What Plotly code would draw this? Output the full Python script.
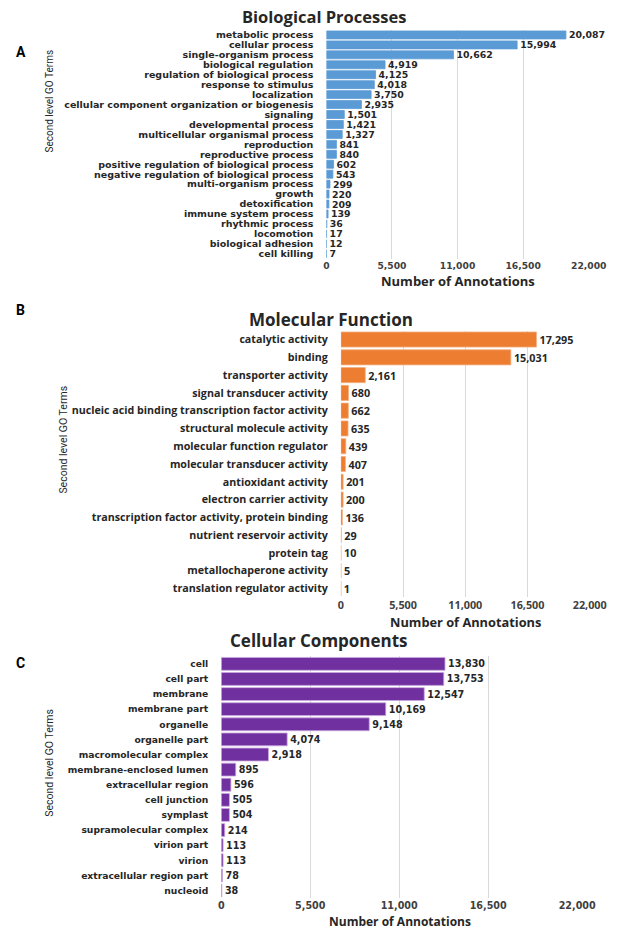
import plotly.graph_objects as go

# ---- Data ----
bp_terms = ["metabolic process", "cellular process", "single-organism process", "biological regulation",
            "regulation of biological process", "response to stimulus", "localization",
            "cellular component organization or biogenesis", "signaling", "developmental process",
            "multicellular organismal process", "reproduction", "reproductive process",
            "positive regulation of biological process", "negative regulation of biological process",
            "multi-organism process", "growth", "detoxification", "immune system process",
            "rhythmic process", "locomotion", "biological adhesion", "cell killing"]
bp_values = [20087, 15994, 10662, 4919, 4125, 4018, 3750, 2935, 1501, 1421, 1327, 841, 840,
             602, 543, 299, 220, 209, 139, 36, 17, 12, 7]

mf_terms = ["catalytic activity", "binding", "transporter activity", "signal transducer activity",
            "nucleic acid binding transcription factor activity", "structural molecule activity",
            "molecular function regulator", "molecular transducer activity", "antioxidant activity",
            "electron carrier activity", "transcription factor activity, protein binding",
            "nutrient reservoir activity", "protein tag", "metallochaperone activity",
            "translation regulator activity"]
mf_values = [17295, 15031, 2161, 680, 662, 635, 439, 407, 201, 200, 136, 29, 10, 5, 1]

cc_terms = ["cell", "cell part", "membrane", "membrane part", "organelle", "organelle part",
            "macromolecular complex", "membrane-enclosed lumen", "extracellular region",
            "cell junction", "symplast", "supramolecular complex", "virion part", "virion",
            "extracellular region part", "nucleoid"]
cc_values = [13830, 13753, 12547, 10169, 9148, 4074, 2918, 895, 596, 505, 504, 214, 113, 113, 78, 38]

tick_vals = [0, 5500, 11000, 16500, 22000]
tick_text = ["0", "5,500", "11,000", "16,500", "22,000"]

W, H = 620, 930

def py(y):  # pixel y -> paper
    return 1 - y / H

def px(x):
    return x / W

OPEN = "Open Sans"
DJV = "DejaVu Sans"

panels = [
    dict(terms=bp_terms, values=bp_values, color="#5B9BD5", line="#5B9BD5",
         lab_font=DJV, lab_fs=9.5, val_font=DJV, val_fs=9.4, tick_font=DJV, tick_fs=9.2,
         title_font=OPEN, title_fs=16.5, ax_font=OPEN, ax_fs=13,
         x0=327, x1=599, ytop=21, ybot=250, width=0.8, title="Biological Processes", ty=8, tx=325,
         letter="A", ly=43, ytx=40, yty=92, ytfs=10, atx=463, aty=272, standoff=12),
    dict(terms=mf_terms, values=mf_values, color="#ED7D31", line="#F4B183",
         lab_font=OPEN, lab_fs=10.7, val_font=OPEN, val_fs=10.8, tick_font=OPEN, tick_fs=10.8,
         title_font=OPEN, title_fs=17, ax_font=OPEN, ax_fs=12.8,
         x0=342, x1=600, ytop=322, ybot=589, width=0.85, title="Molecular Function", ty=311, tx=332,
         letter="B", ly=301, ytx=54, yty=431, ytfs=10.5, atx=471, aty=614, standoff=12),
    dict(terms=cc_terms, values=cc_values, color="#7030A0", line="#C9A8E0",
         lab_font=DJV, lab_fs=9.2, val_font=DJV, val_fs=9.6, tick_font=DJV, tick_fs=9.6,
         title_font=OPEN, title_fs=17, ax_font=OPEN, ax_fs=12,
         x0=218, x1=587, ytop=648, ybot=890, width=0.85, title="Cellular Components", ty=632, tx=319,
         letter="C", ly=655, ytx=40, yty=755, ytfs=10.5, atx=403, aty=913, standoff=12),
]

fig = go.Figure()
annotations = []
layout = dict(width=W, height=H, margin=dict(l=0, r=0, t=0, b=0), paper_bgcolor="white",
              plot_bgcolor="white", showlegend=False)

for i, p in enumerate(panels):
    n = "" if i == 0 else str(i + 1)
    fig.add_trace(go.Bar(
        y=p["terms"], x=p["values"], orientation="h", width=p["width"],
        marker=dict(color=p["color"], line=dict(color=p["line"], width=0.8)),
        text=[f"{v:,}" for v in p["values"]], textposition="outside", cliponaxis=False,
        constraintext="none",
        textfont=dict(family=p["val_font"], size=p["val_fs"], color="#262626", weight="bold"),
        xaxis="x" + n, yaxis="y" + n, hoverinfo="skip"))
    layout["xaxis" + n] = dict(domain=[px(p["x0"]), px(p["x1"])], anchor="y" + n, range=[0, 22000],
                               tickmode="array", tickvals=tick_vals, ticktext=tick_text, showgrid=True,
                               gridcolor="#d9d9d9", gridwidth=1, zeroline=False, showline=False,
                               tickfont=dict(family=p["tick_font"], size=p["tick_fs"], color="#404040",
                                             weight="bold"),
                               fixedrange=True)
    layout["yaxis" + n] = dict(domain=[py(p["ybot"]), py(p["ytop"])], anchor="x" + n, type="category",
                               categoryorder="array", categoryarray=p["terms"], autorange="reversed",
                               tickmode="array", tickvals=p["terms"], ticktext=p["terms"],
                               showgrid=False, zeroline=False, showline=False,
                               ticklabelstandoff=p["standoff"],
                               tickfont=dict(family=p["lab_font"], size=p["lab_fs"], color="#262626",
                                             weight="bold"),
                               fixedrange=True)
    annotations.append(dict(text=p["title"], x=px(p["tx"]), y=py(p["ty"]), xref="paper", yref="paper",
                            showarrow=False, xanchor="center", yanchor="middle",
                            font=dict(family=p["title_font"], size=p["title_fs"], color="#262626",
                                      weight="bold")))
    annotations.append(dict(text="Number of Annotations", x=px(p["atx"]), y=py(p["aty"]), xref="paper",
                            yref="paper", showarrow=False, xanchor="center", yanchor="middle",
                            font=dict(family=p["ax_font"], size=p["ax_fs"], color="#262626",
                                      weight="bold")))
    annotations.append(dict(text="Second level GO Terms", x=px(p["ytx"]), y=py(p["yty"]), xref="paper",
                            yref="paper", showarrow=False, xanchor="center", yanchor="middle", textangle=-90,
                            font=dict(family="Roboto", size=p["ytfs"], color="#262626")))
    annotations.append(dict(text=p["letter"], x=px(3), y=py(p["ly"]), xref="paper", yref="paper",
                            showarrow=False, xanchor="left", yanchor="middle",
                            font=dict(family="Roboto", size=14, color="black", weight="bold")))

layout["annotations"] = annotations
fig.update_layout(**layout)
fig.write_html("out.html")
